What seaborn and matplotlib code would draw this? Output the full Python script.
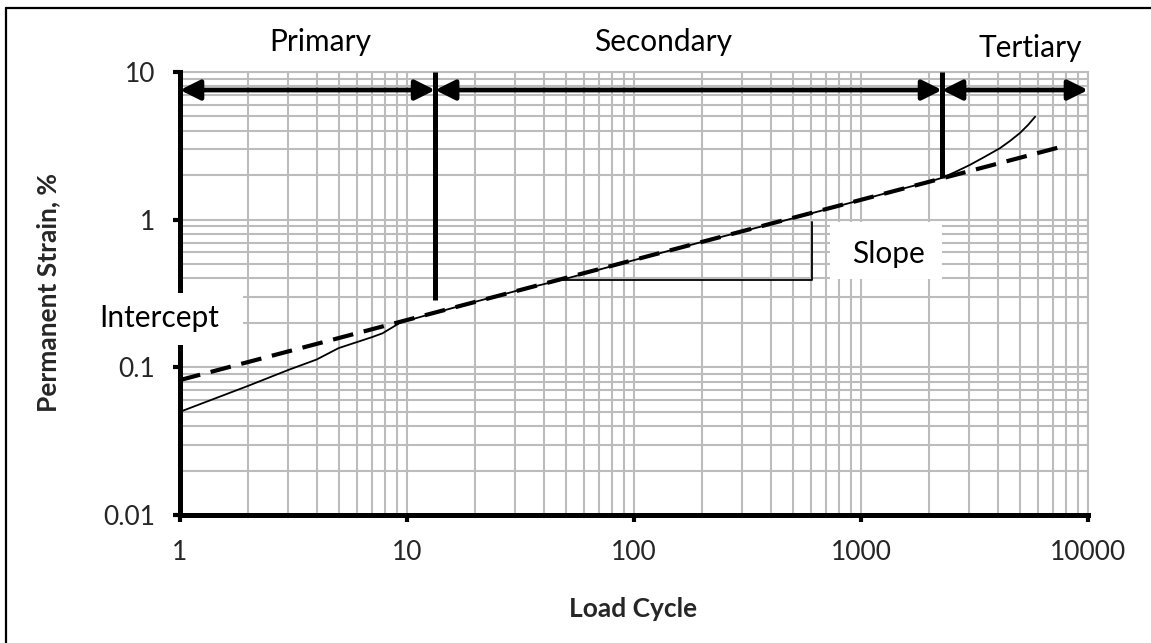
import numpy as np
import pandas as pd
import matplotlib
matplotlib.use("Agg")
import matplotlib.pyplot as plt
import seaborn as sns
from matplotlib.patches import Rectangle
from matplotlib.lines import Line2D
from matplotlib.ticker import FixedLocator, FixedFormatter, LogLocator, NullFormatter

# Measured permanent strain versus load cycle
cycles = [1, 2, 3, 4, 5, 6, 7, 7.8, 9.3, 10, 13.3, 20, 30, 50, 100, 200, 500,
          1000, 1500, 2000, 2275, 2595, 3020, 3500, 4095, 4531, 5012, 5445, 5850]
strain = [0.050, 0.075, 0.096, 0.113, 0.135, 0.148, 0.160, 0.170, 0.200, 0.207,
          0.234, 0.278, 0.328, 0.398, 0.532, 0.708, 1.02, 1.36, 1.61, 1.81,
          1.92, 2.10, 2.35, 2.66, 3.05, 3.41, 3.86, 4.38, 4.98]

# Power-law fit through the secondary stage
fit_cycles = [1, 7900]
fit_strain = [0.082, 3.16]

# Stage boundaries (load cycles) and strain where each boundary line stops
stage_bounds = [13.3, 2275]
bound_bottom = [0.285, 1.92]
stage_names = ["Primary", "Secondary", "Tertiary"]

# Slope triangle corners
slope_x = [47, 608]
slope_y = [0.39, 0.965]

x_ticks = [1, 10, 100, 1000, 10000]
x_tick_labels = ["1", "10", "100", "1000", "10000"]
y_ticks = [0.01, 0.1, 1, 10]
y_tick_labels = ["0.01", "0.1", "1", "10"]

sns.set_theme(style="white")
plt.rcParams["font.family"] = ["Lato", "DejaVu Sans"]

fig = plt.figure(figsize=(11.51, 6.43), dpi=100)
ax = fig.add_axes([180 / 1151, 1 - 515 / 643, 908 / 1151, 443 / 643])
ax.set_xscale("log")
ax.set_yscale("log")
ax.set_xlim(1, 10000)
ax.set_ylim(0.01, 10)

grid_c = "#bcbcbc"
ax.xaxis.set_minor_locator(LogLocator(base=10, subs=np.arange(2, 10)))
ax.yaxis.set_minor_locator(LogLocator(base=10, subs=np.arange(2, 10)))
ax.grid(True, which="both", color=grid_c, lw=1.5, zorder=0)
ax.set_axisbelow(True)

curve = pd.DataFrame({"cycle": cycles, "strain": strain})
fit = pd.DataFrame({"cycle": fit_cycles, "strain": fit_strain})
sns.lineplot(data=fit, x="cycle", y="strain", ax=ax, color="black", lw=3.0,
             zorder=3).lines[-1].set_dashes((5, 2.6))
sns.lineplot(data=curve, x="cycle", y="strain", ax=ax, color="black", lw=1.3,
             zorder=4)

# Stage boundary lines
for xb, yb in zip(stage_bounds, bound_bottom):
    ax.plot([xb, xb], [10, yb], color="black", lw=3.6, solid_capstyle="butt", zorder=5)

# Stage arrows
arrow_y = 7.55
edges = [1] + stage_bounds + [10000]
for i in range(3):
    ax.annotate("", xy=(edges[i + 1], arrow_y), xytext=(edges[i], arrow_y),
                arrowprops=dict(arrowstyle="<|-|>,head_length=0.6,head_width=0.3",
                                mutation_scale=20, color="black", lw=3.4,
                                shrinkA=0, shrinkB=0),
                annotation_clip=False, zorder=6)

# Stage names above the plot
name_pos = [(0.154, 1.068), (0.532, 1.068), (0.936, 1.054)]
for name, (tx, ty) in zip(stage_names, name_pos):
    ax.text(tx, ty, name, transform=ax.transAxes, ha="center", va="center",
            fontsize=21.5, color="black")

# Slope triangle
ax.plot([slope_x[0], slope_x[1], slope_x[1]], [slope_y[0], slope_y[0], slope_y[1]],
        color="black", lw=1.3, zorder=4)

# Label boxes
ax.add_patch(Rectangle((0.716, 0.533), 0.123, 0.128, transform=ax.transAxes,
                       facecolor="white", edgecolor="none", zorder=7, clip_on=False))
ax.text(0.780, 0.589, "Slope", transform=ax.transAxes, ha="center", va="center",
        fontsize=21.5, color="black", zorder=8)
ax.add_patch(Rectangle((-0.10, 0.384), 0.169, 0.117, transform=ax.transAxes,
                       facecolor="white", edgecolor="none", zorder=7, clip_on=False))
ax.text(-0.089, 0.445, "Intercept", transform=ax.transAxes, ha="left", va="center",
        fontsize=21.5, color="black", zorder=8)

# Axes styling
for side in ["top", "right"]:
    ax.spines[side].set_color(grid_c)
    ax.spines[side].set_linewidth(1.5)
for side in ["left", "bottom"]:
    ax.spines[side].set_color("black")
    ax.spines[side].set_linewidth(3.6)
    ax.spines[side].set_zorder(6)

ax.xaxis.set_major_locator(FixedLocator(x_ticks))
ax.xaxis.set_major_formatter(FixedFormatter(x_tick_labels))
ax.yaxis.set_major_locator(FixedLocator(y_ticks))
ax.yaxis.set_major_formatter(FixedFormatter(y_tick_labels))
ax.xaxis.set_minor_formatter(NullFormatter())
ax.yaxis.set_minor_formatter(NullFormatter())
ax.tick_params(which="major", direction="out", length=5, width=3, color="black",
               labelsize=19, pad=13, bottom=True, left=True)
ax.tick_params(which="minor", length=0)

ax.set_xlabel("Load Cycle", fontsize=19, fontweight="bold")
ax.set_ylabel("Permanent Strain, %", fontsize=19, fontweight="bold")
ax.xaxis.set_label_coords((633 - 180) / 908, (515 - 597) / 443)
ax.yaxis.set_label_coords((60 - 180) / 908, (515 - 292) / 443)

# Frame around the whole figure
fig.add_artist(Line2D([5.5 / 1151, 5.5 / 1151], [0, 1 - 7.5 / 643], color="black",
                      lw=1.6, transform=fig.transFigure))
fig.add_artist(Line2D([5.5 / 1151, 1], [1 - 7.5 / 643, 1 - 7.5 / 643], color="black",
                      lw=1.6, transform=fig.transFigure))

fig.savefig("out.png", dpi=100, facecolor="white")
